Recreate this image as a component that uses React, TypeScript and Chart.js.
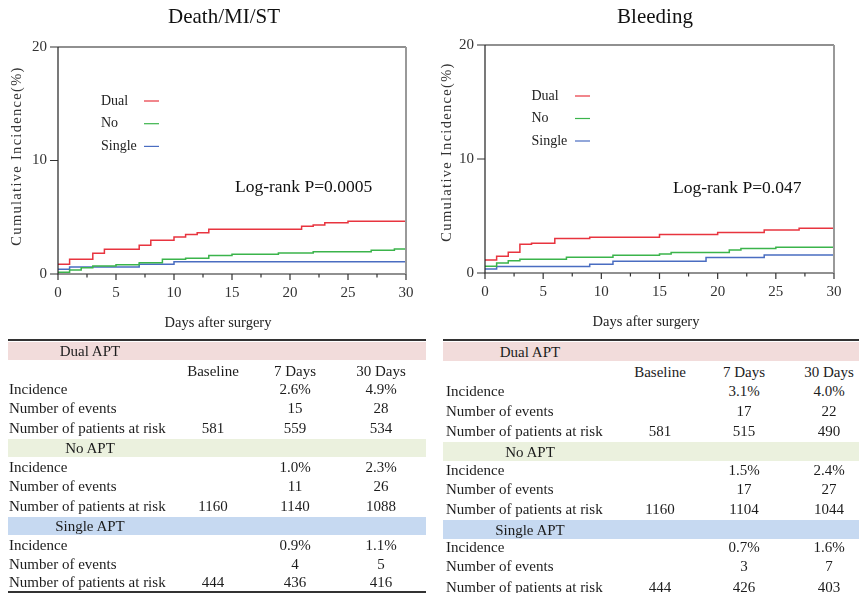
import React, { useEffect, useRef } from 'react';
import { Chart, registerables } from 'chart.js';

Chart.register(...registerables);

const FONT = '"Liberation Serif", "Times New Roman", serif';

// ---------- chart data ----------
const groupNames = ['Dual', 'No', 'Single'];
const groupColors = ['#e8343f', '#3bb44b', '#4a6dc1'];
const xTickValues = [0, 5, 10, 15, 20, 25, 30];
const yTickValues = [0, 10, 20];

// Death/MI/ST
const deathDualDays = [0, 1, 3, 4, 7, 8, 10, 11, 12, 13, 21, 22, 23, 25, 30];
const deathDualVals = [0.85, 1.29, 1.82, 2.17, 2.53, 2.97, 3.26, 3.47, 3.64, 3.94, 4.2, 4.32, 4.52, 4.64, 4.72];
const deathNoDays = [0, 1, 2, 3, 5, 7, 9, 11, 13, 15, 19, 22, 27, 29, 30];
const deathNoVals = [0.15, 0.35, 0.56, 0.7, 0.82, 1.0, 1.29, 1.38, 1.62, 1.73, 1.85, 1.97, 2.09, 2.2, 2.2];
const deathSingleDays = [0, 1, 7, 10, 30];
const deathSingleVals = [0.41, 0.62, 0.86, 1.07, 1.07];

// Bleeding
const bleedDualDays = [0, 1, 2, 3, 4, 6, 9, 15, 20, 24, 27, 30];
const bleedDualVals = [1.14, 1.47, 1.82, 2.52, 2.6, 3.02, 3.14, 3.37, 3.55, 3.78, 3.93, 3.93];
const bleedNoDays = [0, 1, 2, 3, 7, 11, 15, 16, 21, 22, 25, 30];
const bleedNoVals = [0.59, 0.88, 1.08, 1.2, 1.38, 1.55, 1.67, 1.79, 2.02, 2.14, 2.26, 2.26];
const bleedSingleDays = [0, 1, 9, 11, 19, 24, 30];
const bleedSingleVals = [0.35, 0.56, 0.76, 1.03, 1.35, 1.58, 1.58];

// ---------- table data ----------
const colHeaders = ['Baseline', '7 Days', '30 Days'];
const rowLabels = ['Incidence', 'Number of events', 'Number of patients at risk'];
const groupLabels = ['Dual APT', 'No APT', 'Single APT'];
const bandColors = ['#f2dcdb', '#ebf1de', '#c6d9f1'];

const dmsDual = [['', '2.6%', '4.9%'], ['', '15', '28'], ['581', '559', '534']];
const dmsNo = [['', '1.0%', '2.3%'], ['', '11', '26'], ['1160', '1140', '1088']];
const dmsSingle = [['', '0.9%', '1.1%'], ['', '4', '5'], ['444', '436', '416']];

const bleedTabDual = [['', '3.1%', '4.0%'], ['', '17', '22'], ['581', '515', '490']];
const bleedTabNo = [['', '1.5%', '2.4%'], ['', '17', '27'], ['1160', '1104', '1044']];
const bleedTabSingle = [['', '0.7%', '1.6%'], ['', '3', '7'], ['444', '426', '403']];

type Series = { days: number[]; vals: number[] };

type KMProps = {
  left: number;
  width: number;
  height: number;
  area: { l: number; r: number; t: number; b: number };
  title: string;
  titleX: number;
  yTitlePos: [number, number];
  xTitlePos: [number, number];
  legend: { x: number; y: number; dy: number; l1: number; l2: number };
  logRank: { text: string; x: number; y: number };
  series: Series[];
};

function KMChart(p: KMProps) {
  const ref = useRef<HTMLCanvasElement | null>(null);
  useEffect(() => {
    const canvas = ref.current;
    if (!canvas) return;
    const { area } = p;
    const decor = {
      id: 'decor',
      afterDraw(chart: any) {
        const ctx = chart.ctx as CanvasRenderingContext2D;
        const xs = chart.scales.x;
        const ys = chart.scales.y;
        const L = xs.left;
        const R = xs.right;
        const T = ys.top;
        const B = ys.bottom;
        ctx.save();
        ctx.lineCap = 'butt';
        // frame
        ctx.strokeStyle = '#222';
        ctx.lineWidth = 1.2;
        ctx.beginPath();
        ctx.moveTo(L, T);
        ctx.lineTo(R, T);
        ctx.moveTo(L, T);
        ctx.lineTo(L, B);
        ctx.lineTo(R, B);
        ctx.stroke();
        ctx.strokeStyle = '#999';
        ctx.lineWidth = 2;
        ctx.beginPath();
        ctx.moveTo(R, T);
        ctx.lineTo(R, B);
        ctx.stroke();
        // y ticks
        ctx.strokeStyle = '#333';
        ctx.lineWidth = 1.2;
        ctx.beginPath();
        for (const v of yTickValues) {
          const y = ys.getPixelForValue(v);
          ctx.moveTo(L - 8, y);
          ctx.lineTo(L, y);
        }
        // x ticks (major + minor)
        for (let v = 0; v <= 30; v += 2.5) {
          const x = xs.getPixelForValue(v);
          const len = v % 5 === 0 ? 6 : 3.5;
          ctx.moveTo(x, B);
          ctx.lineTo(x, B + len);
        }
        ctx.stroke();
        // title
        ctx.fillStyle = '#111';
        ctx.textAlign = 'center';
        ctx.textBaseline = 'middle';
        ctx.font = `21px ${FONT}`;
        ctx.fillText(p.title, p.titleX, 17);
        // x title
        ctx.fillStyle = '#222';
        ctx.font = `14.5px ${FONT}`;
        ctx.fillText('Days after surgery', p.xTitlePos[0], p.xTitlePos[1]);
        // y title
        ctx.save();
        ctx.translate(p.yTitlePos[0], p.yTitlePos[1]);
        ctx.rotate(-Math.PI / 2);
        (ctx as any).letterSpacing = '1.3px';
        ctx.fillStyle = '#333';
        ctx.font = `14.5px ${FONT}`;
        ctx.fillText('Cumulative Incidence(%)', 0, 0);
        ctx.restore();
        // legend
        ctx.textAlign = 'left';
        ctx.font = `14px ${FONT}`;
        groupNames.forEach((name, i) => {
          const y = p.legend.y + i * p.legend.dy;
          ctx.fillStyle = '#222';
          ctx.fillText(name, p.legend.x, y);
          ctx.strokeStyle = groupColors[i];
          ctx.lineWidth = 1.2;
          ctx.beginPath();
          ctx.moveTo(p.legend.l1, y);
          ctx.lineTo(p.legend.l2, y);
          ctx.stroke();
        });
        // log-rank
        ctx.fillStyle = '#111';
        ctx.font = `17.5px ${FONT}`;
        ctx.fillText(p.logRank.text, p.logRank.x, p.logRank.y);
        ctx.restore();
      },
    };
    const chart = new Chart(canvas, {
      type: 'line',
      data: {
        datasets: p.series.map((s, i) => ({
          label: groupNames[i],
          data: s.days.map((d, k) => ({ x: d, y: s.vals[k] })),
          borderColor: groupColors[i],
          backgroundColor: groupColors[i],
          borderWidth: 1.5,
          pointRadius: 0,
          stepped: true,
          fill: false,
        })),
      },
      options: {
        animation: false,
        responsive: false,
        devicePixelRatio: 1,
        events: [],
        layout: {
          padding: { left: 0, top: area.t, right: p.width - area.r, bottom: 0 },
        },
        plugins: {
          legend: { display: false },
          title: { display: false },
          tooltip: { enabled: false },
        },
        scales: {
          x: {
            type: 'linear',
            min: 0,
            max: 30,
            grid: { display: false, drawTicks: false },
            border: { display: false },
            afterFit: (s: any) => {
              s.height = p.height - area.b;
            },
            afterBuildTicks: (s: any) => {
              s.ticks = xTickValues.map((v) => ({ value: v }));
            },
            ticks: {
              padding: 10,
              color: '#333',
              font: { family: FONT, size: 15 },
              maxRotation: 0,
              autoSkip: false,
            },
          },
          y: {
            type: 'linear',
            min: 0,
            max: 20,
            grid: { display: false, drawTicks: false },
            border: { display: false },
            afterFit: (s: any) => {
              s.width = area.l;
            },
            afterBuildTicks: (s: any) => {
              s.ticks = yTickValues.map((v) => ({ value: v }));
            },
            ticks: {
              padding: 11,
              color: '#333',
              font: { family: FONT, size: 15 },
            },
          },
        },
      },
      plugins: [decor],
    } as any);
    return () => chart.destroy();
  }, []);
  return (
    <canvas
      ref={ref}
      width={p.width}
      height={p.height}
      style={{ position: 'absolute', left: p.left, top: 0, width: p.width, height: p.height }}
    />
  );
}

type TableProps = {
  x0: number;
  x1: number;
  labelX: number;
  bandTextX: number;
  cols: number[];
  topLineY: number;
  bottomLineY?: number;
  bandTops: number[];
  bandH: number;
  headerY: number;
  rowYs: number[][];
  groups: string[][][];
};

function Txt({ x, y, text, align }: { x: number; y: number; text: string; align: 'left' | 'center' }) {
  const w = 200;
  const style: React.CSSProperties = {
    position: 'absolute',
    top: y - 9,
    height: 18,
    lineHeight: '18px',
    fontFamily: FONT,
    fontSize: 15,
    color: '#1c1c1c',
    whiteSpace: 'nowrap',
  };
  if (align === 'left') {
    style.left = x;
  } else {
    style.left = x - w / 2;
    style.width = w;
    style.textAlign = 'center';
  }
  return <div style={style}>{text}</div>;
}

function DataTable(t: TableProps) {
  const els: React.ReactNode[] = [];
  els.push(
    <div key="tl" style={{ position: 'absolute', left: t.x0, top: t.topLineY, width: t.x1 - t.x0, height: 2, background: '#333' }} />
  );
  if (t.bottomLineY !== undefined) {
    els.push(
      <div key="bl" style={{ position: 'absolute', left: t.x0, top: t.bottomLineY, width: t.x1 - t.x0, height: 2, background: '#333' }} />
    );
  }
  groupLabels.forEach((g, gi) => {
    const top = t.bandTops[gi];
    els.push(
      <div key={'band' + gi} style={{ position: 'absolute', left: t.x0, top, width: t.x1 - t.x0, height: t.bandH, background: bandColors[gi] }} />
    );
    els.push(<Txt key={'bt' + gi} x={t.bandTextX} y={top + t.bandH / 2} text={g} align="center" />);
    rowLabels.forEach((lab, ri) => {
      const y = t.rowYs[gi][ri];
      els.push(<Txt key={`rl${gi}-${ri}`} x={t.labelX} y={y} text={lab} align="left" />);
      t.groups[gi][ri].forEach((v, ci) => {
        if (v) els.push(<Txt key={`v${gi}-${ri}-${ci}`} x={t.cols[ci]} y={y} text={v} align="center" />);
      });
    });
  });
  colHeaders.forEach((h, ci) => {
    els.push(<Txt key={'h' + ci} x={t.cols[ci]} y={t.headerY} text={h} align="center" />);
  });
  return <>{els}</>;
}

export default function App() {
  return (
    <div
      style={{
        position: 'absolute',
        left: 0,
        top: 0,
        width: 859,
        height: 593,
        overflow: 'hidden',
        background: '#fff',
      }}
    >
      <KMChart
        left={0}
        width={430}
        height={340}
        area={{ l: 58, r: 406, t: 47, b: 274 }}
        title="Death/MI/ST"
        titleX={224}
        yTitlePos={[17.5, 156]}
        xTitlePos={[218, 323]}
        legend={{ x: 101, y: 101, dy: 22.7, l1: 144, l2: 159 }}
        logRank={{ text: 'Log-rank P=0.0005', x: 235, y: 187 }}
        series={[
          { days: deathDualDays, vals: deathDualVals },
          { days: deathNoDays, vals: deathNoVals },
          { days: deathSingleDays, vals: deathSingleVals },
        ]}
      />
      <KMChart
        left={430}
        width={429}
        height={340}
        area={{ l: 55, r: 404, t: 45, b: 273 }}
        title="Bleeding"
        titleX={225}
        yTitlePos={[17.5, 152]}
        xTitlePos={[216, 322]}
        legend={{ x: 101.5, y: 96, dy: 22.5, l1: 145, l2: 160 }}
        logRank={{ text: 'Log-rank P=0.047', x: 243, y: 188 }}
        series={[
          { days: bleedDualDays, vals: bleedDualVals },
          { days: bleedNoDays, vals: bleedNoVals },
          { days: bleedSingleDays, vals: bleedSingleVals },
        ]}
      />
      <DataTable
        x0={8}
        x1={426}
        labelX={9}
        bandTextX={90}
        cols={[213, 295, 381]}
        topLineY={339}
        bottomLineY={591}
        bandTops={[342, 439, 517]}
        bandH={18}
        headerY={371}
        rowYs={[
          [389, 408, 428],
          [467, 486, 506],
          [545, 564, 582],
        ]}
        groups={[dmsDual, dmsNo, dmsSingle]}
      />
      <DataTable
        x0={443}
        x1={859}
        labelX={446}
        bandTextX={530}
        cols={[660, 744, 829]}
        topLineY={339}
        bandTops={[342, 442, 520]}
        bandH={19}
        headerY={372}
        rowYs={[
          [391, 411, 431],
          [470, 489, 509],
          [547, 566, 587],
        ]}
        groups={[bleedTabDual, bleedTabNo, bleedTabSingle]}
      />
    </div>
  );
}
